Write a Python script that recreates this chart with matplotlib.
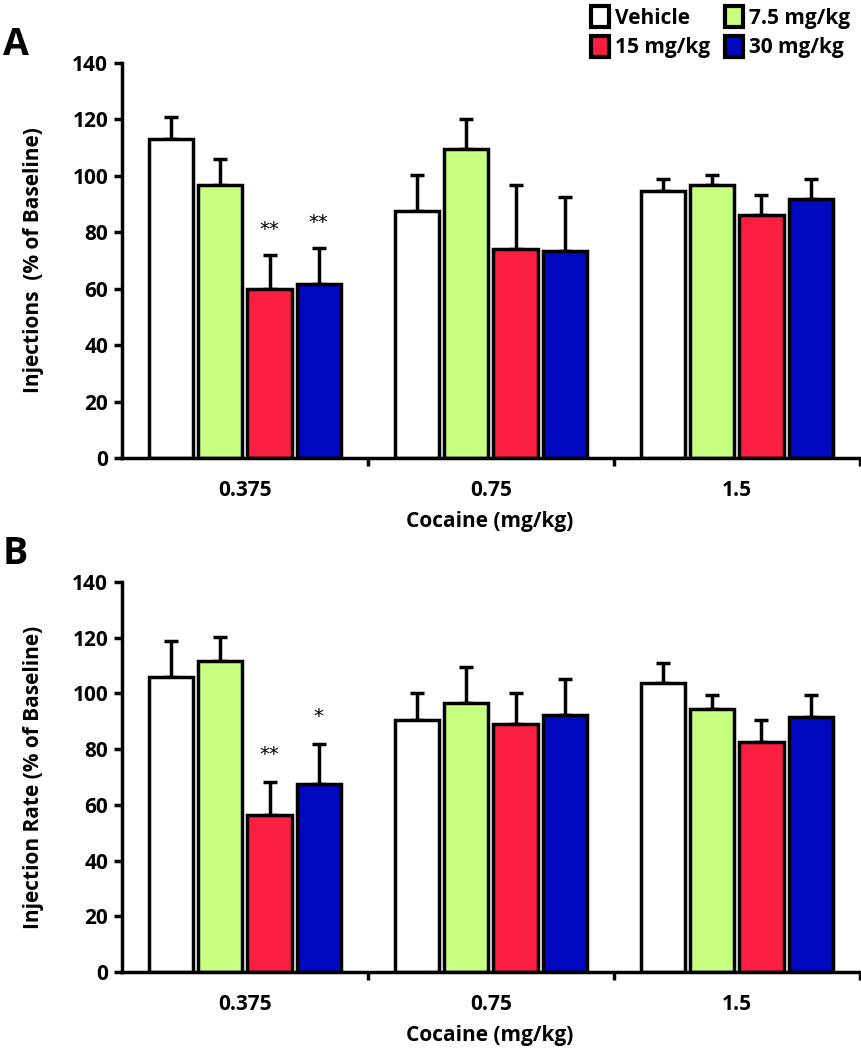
import numpy as np
import matplotlib
matplotlib.use("Agg")
import matplotlib.pyplot as plt
from matplotlib.patches import Patch

plt.rcParams['font.family'] = ['Open Sans', 'DejaVu Sans']
plt.rcParams['font.weight'] = 'bold'

# ---- data ----
doses = ['0.375', '0.75', '1.5']
groups = ['Vehicle', '7.5 mg/kg', '15 mg/kg', '30 mg/kg']
colors = ['#FFFFFF', '#C8FF80', '#FA1E41', '#0008C0']

# panel A: injections (% of baseline), rows = groups, cols = doses
inj_mean = [[113.0, 87.5, 94.7],
            [96.8, 109.5, 96.8],
            [60.0, 74.0, 86.2],
            [61.5, 73.5, 91.8]]
inj_sem = [[8.0, 12.7, 4.2],
           [9.0, 10.6, 3.6],
           [12.0, 22.7, 7.0],
           [13.0, 19.0, 7.0]]
inj_stars = [['', '', ''], ['', '', ''], ['**', '', ''], ['**', '', '']]

# panel B: injection rate (% of baseline)
rate_mean = [[105.9, 90.4, 103.7],
             [111.6, 96.6, 94.4],
             [56.4, 89.0, 82.6],
             [67.5, 92.2, 91.5]]
rate_sem = [[12.9, 9.7, 7.2],
            [8.6, 12.9, 5.0],
            [11.8, 11.1, 7.8],
            [14.3, 13.0, 7.9]]
rate_stars = [['', '', ''], ['', '', ''], ['**', '', ''], ['*', '', '']]

fig = plt.figure(figsize=(8.62, 10.5), dpi=100)
axA = fig.add_axes([0.1415, 0.5638, 0.856, 0.3762])
axB = fig.add_axes([0.1415, 0.0743, 0.856, 0.3714])

LW = 2.5
FS = 15
width = 0.18
pitch = 0.2
x = np.arange(len(doses))


def draw_panel(ax, means, sems, stars, ylabel, star_off):
    for j, g in enumerate(groups):
        pos = x + (j - 1.5) * pitch
        m = np.array(means[j])
        s = np.array(sems[j])
        ax.errorbar(pos, m, yerr=[np.zeros_like(s), s], fmt='none',
                    ecolor='black', elinewidth=LW, capsize=5, capthick=LW,
                    zorder=1)
        ax.bar(pos, m, width=width, color=colors[j], edgecolor='black',
               linewidth=LW, zorder=2, label=g)
        for k in range(len(doses)):
            if stars[j][k]:
                ax.text(pos[k], m[k] + s[k] + star_off, stars[j][k],
                        ha='center', va='center', fontsize=14,
                        fontweight='normal', family='DejaVu Sans')
    ax.set_xlim(-0.5, 2.5)
    ax.set_ylim(0, 140)
    ax.set_yticks(np.arange(0, 141, 20))
    ax.set_xticks(x)
    ax.set_xticklabels(doses, fontsize=FS, fontweight='bold')
    ax.set_xticks([0.5, 1.5, 2.5], minor=True)
    ax.tick_params(axis='x', which='major', length=0, pad=16)
    ax.tick_params(axis='x', which='minor', length=6, width=LW,
                   direction='out')
    ax.tick_params(axis='y', length=6, width=LW, direction='out',
                   labelsize=FS, pad=4)
    for lab in ax.get_yticklabels():
        lab.set_fontweight('bold')
    ax.spines['top'].set_visible(False)
    ax.spines['right'].set_visible(False)
    ax.spines['left'].set_linewidth(LW)
    ax.spines['bottom'].set_linewidth(LW)
    ax.set_ylabel(ylabel, fontsize=FS, fontweight='bold')
    ax.yaxis.set_label_coords(-0.105, 0.5)
    ax.set_xlabel('Cocaine (mg/kg)', fontsize=FS, fontweight='bold')
    ax.xaxis.set_label_coords(0.499, -0.135)


draw_panel(axA, inj_mean, inj_sem, inj_stars, 'Injections  (% of Baseline)', 9)
draw_panel(axB, rate_mean, rate_sem, rate_stars, 'Injection Rate (% of Baseline)', 10)

fig.text(0.003, 0.957, 'A', fontsize=27, fontweight='bold', va='center')
fig.text(0.003, 0.472, 'B', fontsize=27, fontweight='bold', va='center')

handles = [Patch(facecolor=colors[j], edgecolor='black', linewidth=LW + 0.5,
                 label=groups[j]) for j in range(len(groups))]
order = [0, 2, 1, 3]
fig.legend([handles[i] for i in order], [groups[i] for i in order],
           ncol=2, loc='upper right', bbox_to_anchor=(1.008, 1.012),
           frameon=False, handlelength=0.85, handleheight=1.15,
           handletextpad=0.3, columnspacing=0.7, labelspacing=0.35,
           prop={'weight': 'bold', 'size': FS})

fig.savefig('out.png', dpi=100, facecolor='white')
